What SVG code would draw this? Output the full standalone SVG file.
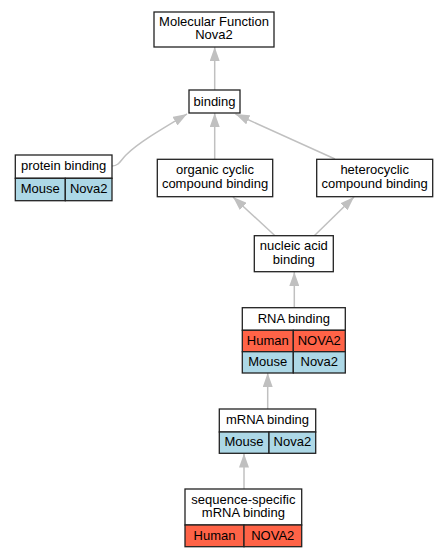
<svg xmlns="http://www.w3.org/2000/svg" width="448" height="557" viewBox="0 0 448 557">
<style>
.box{fill:#fff;stroke:#222;stroke-width:1.3}
.hu{fill:#ff6347;stroke:#222;stroke-width:1.3}
.mo{fill:#add8e6;stroke:#222;stroke-width:1.3}
text{font-family:"Liberation Sans",Arial,sans-serif;font-size:13px;fill:#000;text-anchor:middle}
.e{fill:none;stroke:#c0c0c0;stroke-width:1.5;marker-end:url(#ah)}
</style>
<defs>
<marker id="ah" viewBox="0 0 14 10" refX="14" refY="5" markerWidth="14" markerHeight="10" orient="auto" markerUnits="userSpaceOnUse">
<path d="M0,0 L14,5 L0,10 z" fill="#c0c0c0"/>
</marker>
</defs>
<g id="edges">
<path class="e" d="M214.7,90 L214.7,47"/>
<path class="e" d="M112,166 C119,166 121,160 126,155 C138,143 160,130 187,114"/>
<path class="e" d="M214.7,159 L214.7,113"/>
<path class="e" d="M335,159 L235.5,114"/>
<path class="e" d="M275,235.7 L233,197"/>
<path class="e" d="M314.3,235.7 L354,197"/>
<path class="e" d="M294.3,307.7 L294.3,272"/>
<path class="e" d="M267.7,409 L267.7,373"/>
<path class="e" d="M244,489 L244,453.5"/>
</g>
<g id="mf">
<rect class="box" x="154" y="12" width="120" height="35"/>
<text x="214" y="25.8">Molecular Function<tspan x="214" dy="13.5">Nova2</tspan></text>
</g>
<g id="binding">
<rect class="box" x="189" y="90" width="51" height="23"/>
<text x="214.5" y="105.5">binding</text>
</g>
<g id="protein">
<rect class="box" x="15.3" y="155" width="96.7" height="23.3"/>
<rect class="mo" x="15.3" y="178.3" width="50" height="22.4"/>
<rect class="mo" x="65.3" y="178.3" width="46.7" height="22.4"/>
<text x="63.6" y="170">protein binding</text>
<text x="40.3" y="192.5">Mouse</text>
<text x="88.7" y="192.5">Nova2</text>
</g>
<g id="organic">
<rect class="box" x="157.3" y="159.3" width="115.4" height="37.4"/>
<text x="215" y="174.3">organic cyclic<tspan x="215" dy="13.5">compound binding</tspan></text>
</g>
<g id="hetero">
<rect class="box" x="316.7" y="159.3" width="116" height="37.4"/>
<text x="374.7" y="174.3">heterocyclic<tspan x="374.7" dy="13.5">compound binding</tspan></text>
</g>
<g id="nucleic">
<rect class="box" x="254.3" y="235.7" width="79" height="36"/>
<text x="293.8" y="250">nucleic acid<tspan x="293.8" dy="13.5">binding</tspan></text>
</g>
<g id="rna">
<rect class="box" x="242.3" y="307.7" width="103" height="22.6"/>
<rect class="hu" x="242.3" y="330.3" width="51" height="21.4"/>
<rect class="hu" x="293.3" y="330.3" width="52" height="21.4"/>
<rect class="mo" x="242.3" y="351.7" width="51" height="21.3"/>
<rect class="mo" x="293.3" y="351.7" width="52" height="21.3"/>
<text x="293.8" y="322.5">RNA binding</text>
<text x="267.8" y="344.5">Human</text>
<text x="319.3" y="344.5">NOVA2</text>
<text x="267.8" y="366">Mouse</text>
<text x="319.3" y="366">Nova2</text>
</g>
<g id="mrna">
<rect class="box" x="219.3" y="409" width="96.4" height="23"/>
<rect class="mo" x="219.3" y="432" width="49.7" height="21.3"/>
<rect class="mo" x="269" y="432" width="46.7" height="21.3"/>
<text x="267.5" y="424">mRNA binding</text>
<text x="244" y="445.5">Mouse</text>
<text x="292.4" y="445.5">Nova2</text>
</g>
<g id="seq">
<rect class="box" x="185" y="489" width="116.7" height="36"/>
<rect class="hu" x="185" y="525" width="59" height="21.7"/>
<rect class="hu" x="244" y="525" width="57.7" height="21.7"/>
<text x="243.4" y="503.5">sequence-specific<tspan x="243.4" dy="13.5">mRNA binding</tspan></text>
<text x="214.5" y="540">Human</text>
<text x="272.8" y="540">NOVA2</text>
</g>
</svg>
